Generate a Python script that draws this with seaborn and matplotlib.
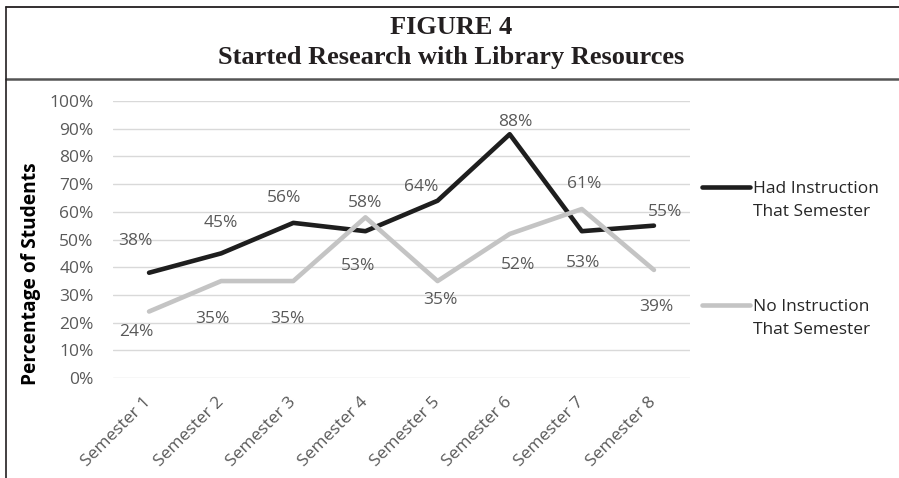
import pandas as pd
import seaborn as sns
import matplotlib.pyplot as plt
from matplotlib.lines import Line2D
from matplotlib.ticker import FuncFormatter
sns.set_style("white")
plt.rcParams['font.family'] = ['Open Sans', 'DejaVu Sans']

semesters = ["Semester 1", "Semester 2", "Semester 3", "Semester 4",
             "Semester 5", "Semester 6", "Semester 7", "Semester 8"]
had_instruction = [38, 45, 56, 53, 64, 88, 53, 55]
no_instruction = [24, 35, 35, 58, 35, 52, 61, 39]
series_names = ["Had Instruction\nThat Semester", "No Instruction\nThat Semester"]

# where each data label sits relative to its point (offset points)
had_offsets = [(-10, 23), (0, 22), (-7, 18), (-5, -25), (-12, 10), (4, 9), (1, -23), (8, 10)]
no_offsets = [(-9, -15), (-6, -27), (-4, -27), (0, 10), (2, -14), (6, -22), (2, 18), (2, -27)]

df = pd.DataFrame({
    "semester": semesters * 2,
    "pct": had_instruction + no_instruction,
    "group": [series_names[0]] * 8 + [series_names[1]] * 8,
})

colors = {series_names[0]: "#1e1e1e", series_names[1]: "#c4c4c4"}
label_grey = "#595959"

fig = plt.figure(figsize=(8.99, 4.78), dpi=100)
ax = fig.add_axes([113/899, 1-378/478, 577/899, 277/478])

sns.lineplot(data=df, x="semester", y="pct", hue="group", palette=colors,
             linewidth=3.3, sort=False, legend=False, ax=ax)

ax.set_ylim(0, 100)
ax.set_xlim(-0.5, len(semesters) - 0.5)
ax.set_yticks(range(0, 101, 10))
ax.yaxis.set_major_formatter(FuncFormatter(lambda v, p: f"{int(v)}%"))
ax.grid(axis="y", color="#d9d9d9", linewidth=1)
ax.grid(axis="x", visible=False)
ax.set_axisbelow(True)
for s in ax.spines.values():
    s.set_visible(False)
ax.tick_params(axis="y", length=0, pad=14, labelsize=12.5, labelcolor=label_grey)
ax.tick_params(axis="x", length=0, pad=16, labelsize=12.5, labelcolor=label_grey)
plt.setp(ax.get_xticklabels(), rotation=45, ha="right", va="center", rotation_mode="anchor")
ax.set_xlabel("")
ax.set_ylabel("Percentage of Students", fontsize=13.8, fontweight="bold", color="black")
ax.yaxis.set_label_coords(-0.125, 0.375)

# data labels
for vals, offs in [(had_instruction, had_offsets), (no_instruction, no_offsets)]:
    for i, (v, o) in enumerate(zip(vals, offs)):
        ax.annotate(f"{v}%", (i, v), xytext=o, textcoords="offset points",
                    ha="center", va="center", fontsize=12.5, color=label_grey)

# legend drawn beside the plot, handle next to first text line
for name, y in zip(series_names, [1-187/478, 1-305/478]):
    fig.add_artist(Line2D([702/899, 750/899], [y, y], color=colors[name],
                          linewidth=3.3, solid_capstyle="round", transform=fig.transFigure))
    fig.text(753/899, y + 0.013, name, va="top", ha="left", fontsize=12.5,
             color="#262626", linespacing=1.6)

# title box
fig.text(0.502, 1-27/478, "FIGURE 4", ha="center", va="center",
         fontsize=19, fontweight="bold", family="Liberation Serif", color="#231f20")
fig.text(0.502, 1-57/478, "Started Research with Library Resources", ha="center", va="center",
         fontsize=19, fontweight="bold", family="Liberation Serif", color="#231f20")
fig.add_artist(Line2D([6/899, 1], [1-7/478, 1-7/478], color="#231f20", linewidth=1.3,
                      transform=fig.transFigure))
fig.add_artist(Line2D([6/899, 1], [1-79/478, 1-79/478], color="#555555", linewidth=1.8,
                      transform=fig.transFigure))
fig.add_artist(Line2D([6/899, 6/899], [0, 1-7/478], color="#231f20", linewidth=1.2,
                      transform=fig.transFigure))

plt.savefig("out.png", dpi=100)
